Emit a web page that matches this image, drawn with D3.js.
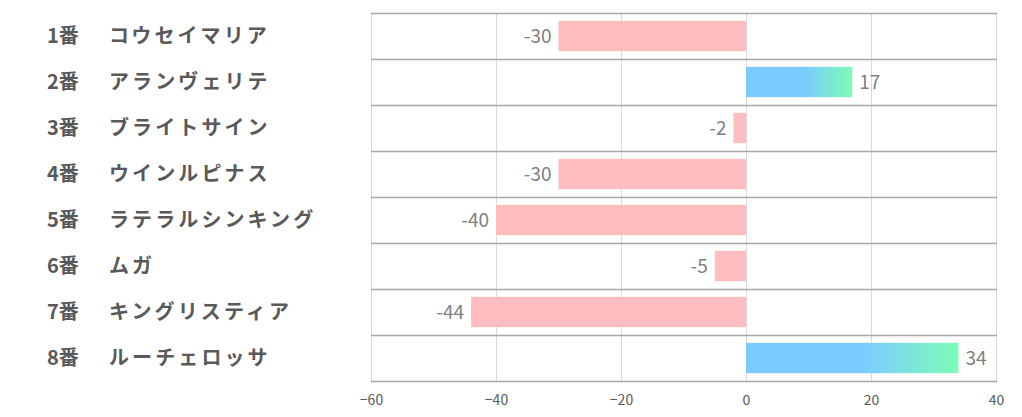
<!DOCTYPE html>
<html>
<head>
<meta charset="utf-8">
<script src="https://cdn.jsdelivr.net/npm/d3@7"></script>
<style>
  body { margin: 0; background: #fff; }
  svg text { font-family: "Noto Sans CJK JP", "Noto Sans", sans-serif; }
</style>
</head>
<body>
<div id="chart"></div>
<script>
var numbers = ['1番', '2番', '3番', '4番', '5番', '6番', '7番', '8番'];
var horses = ['コウセイマリア', 'アランヴェリテ', 'ブライトサイン', 'ウインルピナス',
              'ラテラルシンキング', 'ムガ', 'キングリスティア', 'ルーチェロッサ'];
var values = [-30, 17, -2, -30, -40, -5, -44, 34];
var tickValues = [-60, -40, -20, 0, 20, 40];

var width = 1022, height = 417;
var margin = { top: 13, right: 26, bottom: 36, left: 371 };

var svg = d3.select('#chart').append('svg')
    .attr('width', width).attr('height', height);

var x = d3.scaleLinear()
    .domain([-60, 40])
    .range([margin.left, width - margin.right]);

var y = d3.scaleBand()
    .domain(d3.range(values.length))
    .range([margin.top, height - margin.bottom])
    .paddingInner(0.34).paddingOuter(0.17);

var rowStep = y.step();

// gradient for positive bars
var grad = svg.append('defs').append('linearGradient')
    .attr('id', 'pos').attr('x1', '0%').attr('x2', '100%');
grad.append('stop').attr('offset', '55%').attr('stop-color', '#7ccbff');
grad.append('stop').attr('offset', '100%').attr('stop-color', '#7dfcb8');

// vertical gridlines
svg.append('g').selectAll('line')
    .data(tickValues)
    .enter().append('line')
    .attr('x1', function (d) { return x(d) + 0.5; })
    .attr('x2', function (d) { return x(d) + 0.5; })
    .attr('y1', margin.top)
    .attr('y2', height - margin.bottom)
    .attr('stroke', '#d9d9d9')
    .attr('stroke-width', 1);

// row separators
var rowEdges = d3.range(values.length + 1);
svg.append('g').selectAll('line')
    .data(rowEdges)
    .enter().append('line')
    .attr('x1', x(-60))
    .attr('x2', x(40) + 1)
    .attr('y1', function (d) { return margin.top + d * rowStep + 0.5; })
    .attr('y2', function (d) { return margin.top + d * rowStep + 0.5; })
    .attr('stroke', '#a6a6a6')
    .attr('stroke-width', 1.3);

// bars
svg.append('g').selectAll('rect')
    .data(values)
    .enter().append('rect')
    .attr('x', function (d) { return x(Math.min(0, d)); })
    .attr('y', function (d, i) { return y(i); })
    .attr('width', function (d) { return Math.abs(x(d) - x(0)); })
    .attr('height', y.bandwidth())
    .attr('fill', function (d) { return d < 0 ? '#ffbdbf' : 'url(#pos)'; });

// value labels
svg.append('g').selectAll('text')
    .data(values)
    .enter().append('text')
    .attr('x', function (d) { return d < 0 ? x(d) - 7 : x(d) + 7; })
    .attr('y', function (d, i) { return y(i) + y.bandwidth() / 2; })
    .attr('dy', '0.36em')
    .attr('text-anchor', function (d) { return d < 0 ? 'end' : 'start'; })
    .attr('font-size', 19)
    .attr('fill', '#7f7f7f')
    .text(function (d) { return d; });

// category labels
var labels = svg.append('g').selectAll('g')
    .data(numbers)
    .enter().append('g')
    .attr('transform', function (d, i) {
        return 'translate(0,' + (y(i) + y.bandwidth() / 2) + ')';
    });

labels.append('text')
    .attr('x', 47)
    .attr('dy', '0.36em')
    .attr('font-size', 20)
    .attr('font-weight', 'bold')
    .attr('fill', '#595959')
    .text(function (d) { return d; });

labels.append('text')
    .attr('x', 109)
    .attr('dy', '0.36em')
    .attr('font-size', 20)
    .attr('font-weight', 'bold')
    .attr('letter-spacing', 3.1)
    .attr('fill', '#595959')
    .text(function (d, i) { return horses[i]; });

// x axis
var xAxis = svg.append('g')
    .attr('transform', 'translate(0,' + (height - margin.bottom) + ')')
    .call(d3.axisBottom(x).tickValues(tickValues).tickSize(0).tickPadding(14));

xAxis.select('.domain').remove();
xAxis.selectAll('text')
    .attr('font-size', 14)
    .attr('fill', '#595959')
    .style('font-family', '"Noto Sans CJK JP", sans-serif');
</script>
</body>
</html>
